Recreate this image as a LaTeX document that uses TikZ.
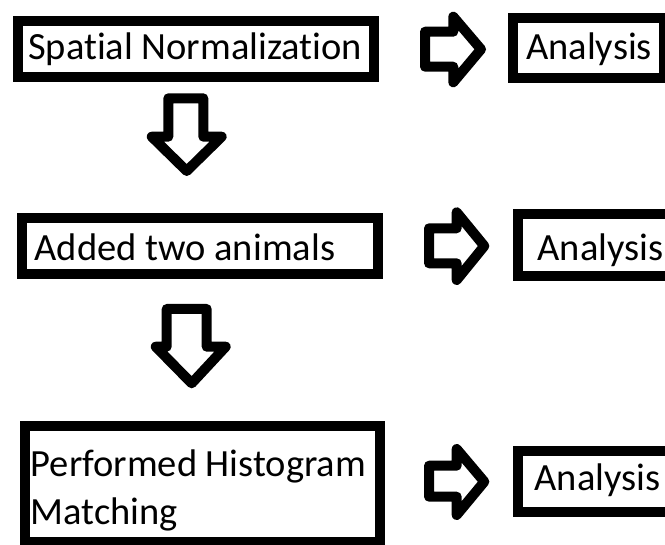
\documentclass[tikz,border=0pt]{standalone}
\usepackage{fontspec}
\setmainfont[Ligatures={NoCommon}]{Carlito}
\begin{document}
\begin{tikzpicture}[x=1pt,y=-1pt,
  box/.style={draw=black, line width=10pt, rectangle, inner sep=0pt, fill=white},
  blockarrow/.style={draw=black, line width=10pt, line join=round, fill=white},
  txt/.style={anchor=base west, inner sep=0pt, font=\fontsize{38.5}{47}\selectfont}]
\useasboundingbox (0,0) rectangle (665,545);
\clip (0,0) rectangle (665,545);
\fill[white] (0,0) rectangle (665,545);

% left boxes
\node[box, minimum width=356pt, minimum height=56pt] (b1) at (196,49) {};
\node[box, minimum width=356pt, minimum height=55.5pt] (b2) at (200,246.25) {};
\node[box, minimum width=355.5pt, minimum height=115.5pt] (b3) at (202.25,484.25) {};

% right boxes
\node[box, minimum width=151pt, minimum height=60pt] (a1) at (588.5,48) {};
\node[box, minimum width=162pt, minimum height=61.7pt] (a2) at (598.85,245.15) {};
\node[box, minimum width=162pt, minimum height=61.3pt] (a3) at (598.85,481.65) {};

% texts
\node[txt] (t1) at (28,59.5) {Spatial Normalization};
\node[txt] (t2) at (34.5,260.7) {Added two animals};
\node[txt] (t3a) at (30.5,477) {Performed Histogram};
\node[txt] (t3b) at (30.5,525) {Matching};
\node[txt] (u1) at (526,59.3) {Analysis};
\node[txt] (u2) at (537.5,260.7) {Analysis};
\node[txt] (u3) at (534.5,490.7) {Analysis};

% right block arrows
\draw[blockarrow] (425,31.7) -- (453.3,31.7) -- (453.3,16.7) -- (481,49.3) -- (453.3,82.3) -- (453.3,66.7) -- (425,66.7) -- cycle;
\draw[blockarrow] (429,228.3) -- (456.7,228.3) -- (456.7,212.3) -- (484.3,246) -- (456.7,280) -- (456.7,263.3) -- (429,263.3) -- cycle;
\draw[blockarrow] (429,465.7) -- (456.7,465.7) -- (456.7,449) -- (484.3,481.7) -- (456.7,515) -- (456.7,496.7) -- (429,496.7) -- cycle;

% down block arrows
\draw[blockarrow] (168.3,98.3) -- (203.3,98.3) -- (203.3,136.7) -- (221.7,136.7) -- (186.7,171) -- (151.7,136.7) -- (168.3,136.7) -- cycle;
\draw[blockarrow] (166.7,309) -- (206.7,309) -- (206.7,346.7) -- (225.7,346.7) -- (191.7,383.3) -- (155.7,346.7) -- (166.7,346.7) -- cycle;
\end{tikzpicture}
\end{document}
